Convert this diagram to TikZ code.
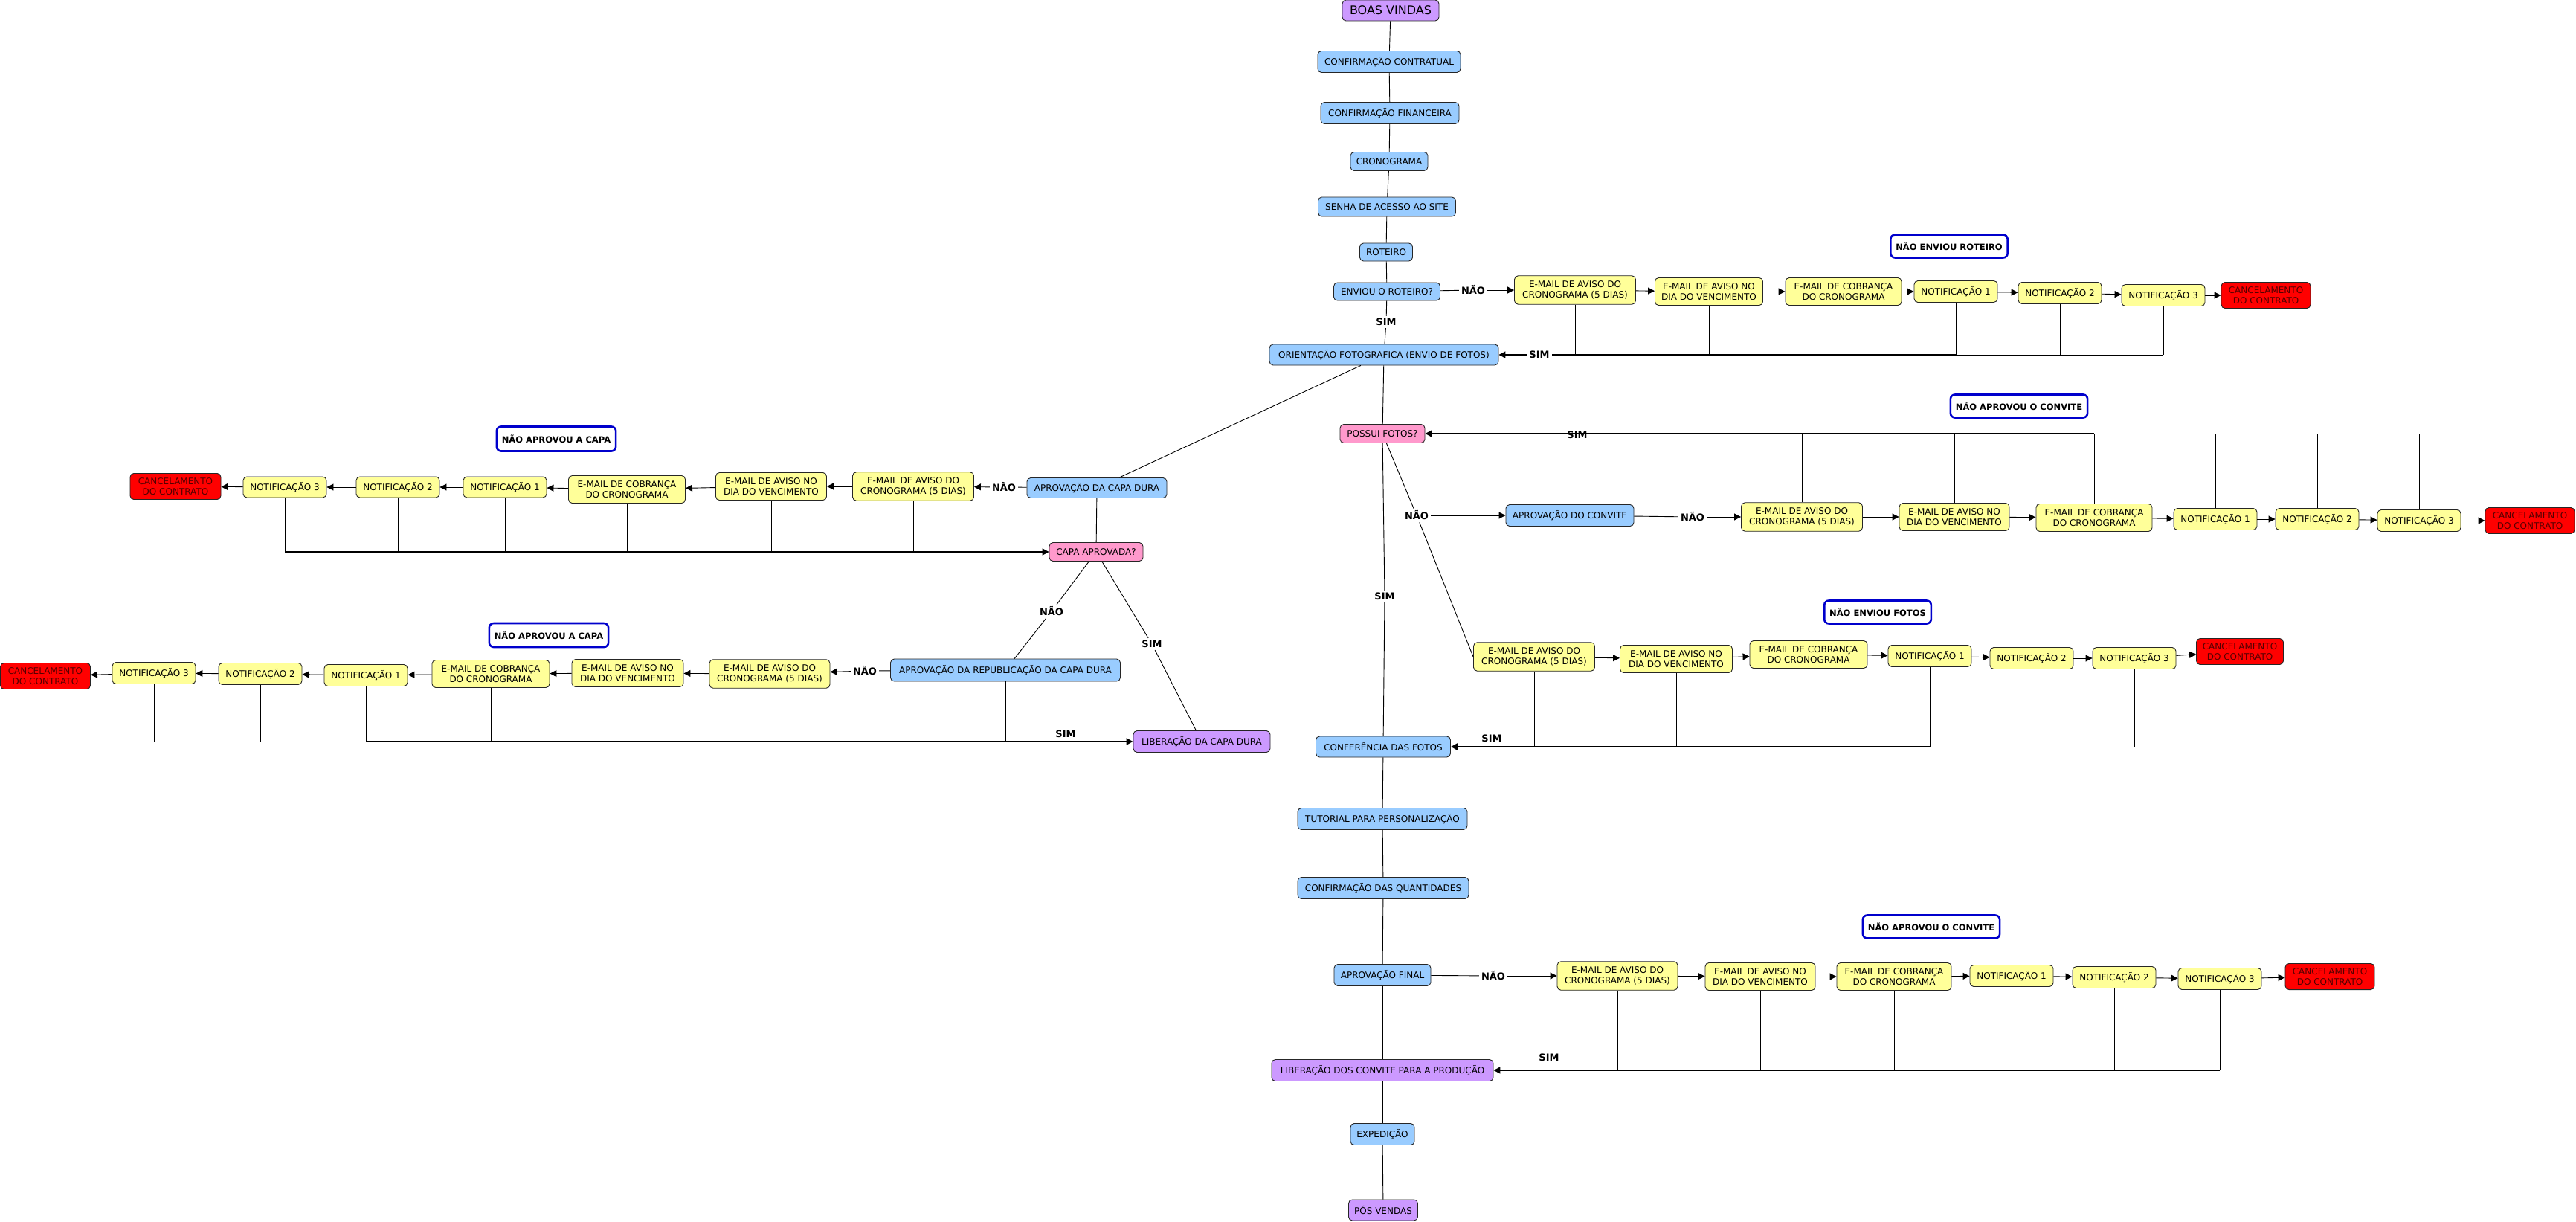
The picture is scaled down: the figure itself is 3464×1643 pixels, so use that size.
\documentclass[tikz,border=0pt]{standalone}
\usepackage{fontspec}
\setmainfont{DejaVu Sans}
\usetikzlibrary{arrows.meta}
\definecolor{cblue}{HTML}{99CCFF}
\definecolor{cyel}{HTML}{FFFF99}
\definecolor{cred}{HTML}{FF0000}
\definecolor{cpink}{HTML}{FF99CC}
\definecolor{cpurp}{HTML}{CC99FF}
\definecolor{lblue}{HTML}{0000CC}
\definecolor{dred}{HTML}{550000}
\newcommand\txAviso{E-MAIL DE AVISO DO\\CRONOGRAMA (5 DIAS)}
\newcommand\txVenc{E-MAIL DE AVISO NO\\DIA DO VENCIMENTO}
\newcommand\txCobr{E-MAIL DE COBRANÇA\\DO CRONOGRAMA}
\newcommand\txCanc{CANCELAMENTO\\DO CONTRATO}
\begin{document}
\begin{tikzpicture}[x=1pt,y=-1pt,
  box/.style={draw=black!85, line width=0.9pt, rounded corners=5pt, align=center,
    font=\fontsize{12}{14}\selectfont, inner xsep=3pt, inner ysep=5pt, minimum height=28pt},
  bl/.style={box, fill=cblue},
  yl/.style={box, fill=cyel, inner ysep=7pt},
  nt/.style={box, fill=cyel, minimum width=112pt, minimum height=29pt},
  rd/.style={box, fill=cred, text=dred, inner ysep=6pt, minimum width=120pt},
  pk/.style={box, fill=cpink},
  pu/.style={box, fill=cpurp},
  tag/.style={draw=lblue, line width=2.6pt, rounded corners=6pt, fill=white,
    font=\bfseries\fontsize{11.5}{14}\selectfont, inner xsep=7pt, minimum height=31pt},
  lab/.style={font=\bfseries\fontsize{13}{15}\selectfont, inner sep=3pt},
  ln/.style={line width=0.9pt},
  md/.style={line width=1.4pt},
  thk/.style={line width=2.4pt},
  arr/.style={-{Triangle[length=9pt,width=9pt]}}
]
\fill[white] (0,0) rectangle (3464,1643);
\useasboundingbox (0,0) rectangle (3464,1643);

% ---------- main column ----------
\node[pu, font=\fontsize{16}{18}\selectfont, minimum width=130pt] (boas) at (1870,14) {BOAS VINDAS};
\node[bl, minimum width=192pt, minimum height=29pt] (contr) at (1868,83) {CONFIRMAÇÃO CONTRATUAL};
\node[bl, minimum width=186pt, minimum height=29pt] (finan) at (1869,152) {CONFIRMAÇÃO FINANCEIRA};
\node[bl, minimum width=104pt, minimum height=25pt] (crono) at (1868,217) {CRONOGRAMA};
\node[bl, minimum width=185pt, minimum height=26pt] (senha) at (1865,278) {SENHA DE ACESSO AO SITE};
\node[bl, minimum width=71pt, minimum height=24pt] (rot) at (1864,339) {ROTEIRO};
\node[bl, minimum width=143pt, minimum height=24pt] (enviou) at (1865,392) {ENVIOU O ROTEIRO?};
\node[lab] (simA) at (1864,433) {SIM};
\node[bl, minimum width=308pt] (orient) at (1861,477) {ORIENTAÇÃO FOTOGRAFICA (ENVIO DE FOTOS)};
\node[pk, minimum width=114pt, minimum height=25pt] (possui) at (1859,583) {POSSUI FOTOS?};
\node[lab] (simC) at (1862,802) {SIM};
\node[bl, minimum width=181pt] (confer) at (1860,1004) {CONFERÊNCIA DAS FOTOS};
\node[bl, minimum width=228pt, minimum height=29pt] (tutor) at (1859,1101) {TUTORIAL PARA PERSONALIZAÇÃO};
\node[bl, minimum width=230pt, minimum height=29pt] (quant) at (1860,1194) {CONFIRMAÇÃO DAS QUANTIDADES};
\node[bl, minimum width=130pt, minimum height=29pt] (final) at (1859,1311) {APROVAÇÃO FINAL};
\node[pu, minimum width=298pt, minimum height=29pt] (libconv) at (1859,1439) {LIBERAÇÃO DOS CONVITE PARA A PRODUÇÃO};
\node[bl, minimum width=86pt, minimum height=29pt] (exped) at (1859,1525) {EXPEDIÇÃO};
\node[pu, minimum width=93pt] (pos) at (1860,1627) {PÓS VENDAS};

% ---------- row 1 ----------
\node[lab] (naoA) at (1981,390) {NÃO};
\node[yl, minimum width=163pt] (r1e1) at (2118,390) {\txAviso};
\node[yl, minimum width=145pt] (r1e2) at (2298,392) {\txVenc};
\node[yl, minimum width=156pt] (r1e3) at (2479,392) {\txCobr};
\node[nt] (r1n1) at (2630,392) {NOTIFICAÇÃO 1};
\node[nt] (r1n2) at (2770,394) {NOTIFICAÇÃO 2};
\node[nt] (r1n3) at (2909,397) {NOTIFICAÇÃO 3};
\node[rd] (r1c) at (3047,397) {\txCanc};
\node[lab] (simB) at (2070,477) {SIM};
\node[tag] (tag1) at (2621,331) {NÃO ENVIOU ROTEIRO};

% ---------- row 2 ----------
\node[lab] (naoF) at (1905,693) {NÃO};
\node[bl, minimum width=172pt, minimum height=29pt] (conv) at (2111,693) {APROVAÇÃO DO CONVITE};
\node[lab] (naoK) at (2276,695) {NÃO};
\node[yl, minimum width=163pt] (r2e1) at (2423,695) {\txAviso};
\node[yl, minimum width=148pt] (r2e2) at (2628,695) {\txVenc};
\node[yl, minimum width=156pt] (r2e3) at (2816,696) {\txCobr};
\node[nt] (r2n1) at (2979,698) {NOTIFICAÇÃO 1};
\node[nt] (r2n2) at (3116,698) {NOTIFICAÇÃO 2};
\node[nt] (r2n3) at (3253,700) {NOTIFICAÇÃO 3};
\node[rd] (r2c) at (3402,700) {\txCanc};
\node[tag] (tag2) at (2715,546) {NÃO APROVOU O CONVITE};

% ---------- row 3 ----------
\node[yl, minimum width=163pt] (r3e1) at (2063,883) {\txAviso};
\node[yl, minimum width=151pt] (r3e2) at (2254,886) {\txVenc};
\node[yl, minimum width=158pt] (r3e3) at (2432,880) {\txCobr};
\node[nt] (r3n1) at (2595,882) {NOTIFICAÇÃO 1};
\node[nt] (r3n2) at (2732,885) {NOTIFICAÇÃO 2};
\node[nt] (r3n3) at (2870,885) {NOTIFICAÇÃO 3};
\node[rd, minimum width=117pt] (r3c) at (3012,876) {\txCanc};
\node[lab] (simF) at (2006,993) {SIM};
\node[tag] (tag3) at (2525,823) {NÃO ENVIOU FOTOS};

% ---------- row 4 ----------
\node[lab] (naoJ) at (2008,1312) {NÃO};
\node[yl, minimum width=162pt] (r4e1) at (2175,1312) {\txAviso};
\node[yl, minimum width=148pt] (r4e2) at (2367,1313) {\txVenc};
\node[yl, minimum width=154pt] (r4e3) at (2547,1313) {\txCobr};
\node[nt] (r4n1) at (2705,1312) {NOTIFICAÇÃO 1};
\node[nt] (r4n2) at (2843,1314) {NOTIFICAÇÃO 2};
\node[nt] (r4n3) at (2985,1316) {NOTIFICAÇÃO 3};
\node[rd] (r4c) at (3133,1313) {\txCanc};
\node[lab] (simG) at (2083,1422) {SIM};
\node[tag] (tag4) at (2597,1246) {NÃO APROVOU O CONVITE};

% ---------- left 1 ----------
\node[bl, minimum width=188pt, minimum height=27pt] (capad) at (1475,656) {APROVAÇÃO DA CAPA DURA};
\node[lab] (naoH) at (1350,655) {NÃO};
\node[yl, minimum width=163pt] (l1e1) at (1228,654) {\txAviso};
\node[yl, minimum width=149pt] (l1e2) at (1037,654) {\txVenc};
\node[yl, minimum width=157pt] (l1e3) at (843,658) {\txCobr};
\node[nt, minimum height=28pt] (l1n1) at (679,655) {NOTIFICAÇÃO 1};
\node[nt, minimum height=28pt] (l1n2) at (535,655) {NOTIFICAÇÃO 2};
\node[nt, minimum height=28pt] (l1n3) at (383,655) {NOTIFICAÇÃO 3};
\node[rd, minimum width=122pt] (l1c) at (236,654) {\txCanc};
\node[pk, minimum width=126pt, minimum height=25pt] (capaap) at (1474,742) {CAPA APROVADA?};
\node[tag, minimum height=33pt] (tag5) at (748,590) {NÃO APROVOU A CAPA};

% ---------- left 2 ----------
\node[lab] (naoG) at (1414,822) {NÃO};
\node[lab] (simD) at (1549,866) {SIM};
\node[bl, minimum width=309pt, minimum height=30pt] (republ) at (1352,901) {APROVAÇÃO DA REPUBLICAÇÃO DA CAPA DURA};
\node[lab] (naoI) at (1163,902) {NÃO};
\node[yl, minimum width=162pt] (l2e1) at (1035,906) {\txAviso};
\node[yl, minimum width=150pt] (l2e2) at (844,905) {\txVenc};
\node[yl, minimum width=158pt] (l2e3) at (660,906) {\txCobr};
\node[nt] (l2n1) at (492,908) {NOTIFICAÇÃO 1};
\node[nt] (l2n2) at (350,906) {NOTIFICAÇÃO 2};
\node[nt] (l2n3) at (207,905) {NOTIFICAÇÃO 3};
\node[rd, minimum width=121pt] (l2c) at (61,909) {\txCanc};
\node[pu, minimum width=184pt, minimum height=29pt] (libcapa) at (1616,997) {LIBERAÇÃO DA CAPA DURA};
\node[lab] (simH) at (1433,987) {SIM};
\node[tag, minimum height=32pt] (tag6) at (738,854) {NÃO APROVOU A CAPA};

% ---------- plain connectors ----------
\foreach \a/\b in {boas/contr, contr/finan, finan/crono, crono/senha, senha/rot,
  rot/enviou, enviou/simA, simA/orient, orient/possui, orient/capad, possui/simC,
  simC/confer, confer/tutor, tutor/quant, quant/final, final/libconv, libconv/exped,
  exped/pos, enviou/naoA, possui/naoF, naoF/r3e1.west, capad/naoH, capad/capaap,
  capaap/naoG, naoG/republ, capaap/simD, simD/libcapa, republ/naoI, conv/naoK, final/naoJ}
  \draw[ln] (\a) -- (\b);

% ---------- arrows along rows ----------
\foreach \a/\b in {naoA/r1e1, r1e1/r1e2, r1e2/r1e3, r1e3/r1n1, r1n1/r1n2, r1n2/r1n3, r1n3/r1c,
  naoF/conv, naoK/r2e1, r2e1/r2e2, r2e2/r2e3, r2e3/r2n1, r2n1/r2n2, r2n2/r2n3, r2n3/r2c,
  r3e1/r3e2, r3e2/r3e3, r3e3/r3n1, r3n1/r3n2, r3n2/r3n3, r3n3/r3c,
  naoJ/r4e1, r4e1/r4e2, r4e2/r4e3, r4e3/r4n1, r4n1/r4n2, r4n2/r4n3, r4n3/r4c,
  naoH/l1e1, l1e1/l1e2, l1e2/l1e3, l1e3/l1n1, l1n1/l1n2, l1n2/l1n3, l1n3/l1c,
  naoI/l2e1, l2e1/l2e2, l2e2/l2e3, l2e3/l2n1, l2n1/l2n2, l2n2/l2n3, l2n3/l2c}
  \draw[ln, arr] (\a) -- (\b);

% ---------- return lines ----------
% row 1
\foreach \n in {r1e1,r1e2,r1e3,r1n1,r1n2,r1n3}
  \draw[ln] (\n.south) -- (\n.south |- orient.east);
\draw[ln] (r1n3.south |- orient.east) -- (r1n1.south |- orient.east);
\draw[thk] (r1n1.south |- orient.east) -- (simB);
\draw[md, arr] (simB) -- (orient);
% row 2
\foreach \n in {r2e1,r2e2,r2e3,r2n1,r2n2,r2n3}
  \draw[ln] (\n.north) -- (\n.north |- possui.east);
\draw[ln] (r2n3.north |- possui.east) -- (r2e3.north |- possui.east);
\draw[thk, arr] (r2e3.north |- possui.east) -- (possui);
\node[lab] (simE) at (2121,585) {SIM};
% row 3
\foreach \n in {r3e1,r3e2,r3e3,r3n1,r3n2,r3n3}
  \draw[ln] (\n.south) -- (\n.south |- confer.east);
\draw[ln] (r3n3.south |- confer.east) -- (r3n1.south |- confer.east);
\draw[thk, arr] (r3n1.south |- confer.east) -- (confer);
% row 4
\foreach \n in {r4e1,r4e2,r4e3,r4n1,r4n2,r4n3}
  \draw[ln] (\n.south) -- (\n.south |- libconv.east);
\draw[md, arr] (r4n3.south |- libconv.east) -- (libconv);
% left 1
\foreach \n in {l1e1,l1e2,l1e3,l1n1,l1n2,l1n3}
  \draw[ln] (\n.south) -- (\n.south |- capaap.west);
\draw[md, arr] (l1n3.south |- capaap.west) -- (capaap);
% left 2
\foreach \n in {l2e1,l2e2,l2e3,l2n1,l2n2,l2n3,republ}
  \draw[ln] (\n.south) -- (\n.south |- libcapa.west);
\draw[ln] (l2n3.south |- libcapa.west) -- (l2n1.south |- libcapa.west);
\draw[thk, arr] (l2n1.south |- libcapa.west) -- (libcapa);
\end{tikzpicture}
\end{document}
